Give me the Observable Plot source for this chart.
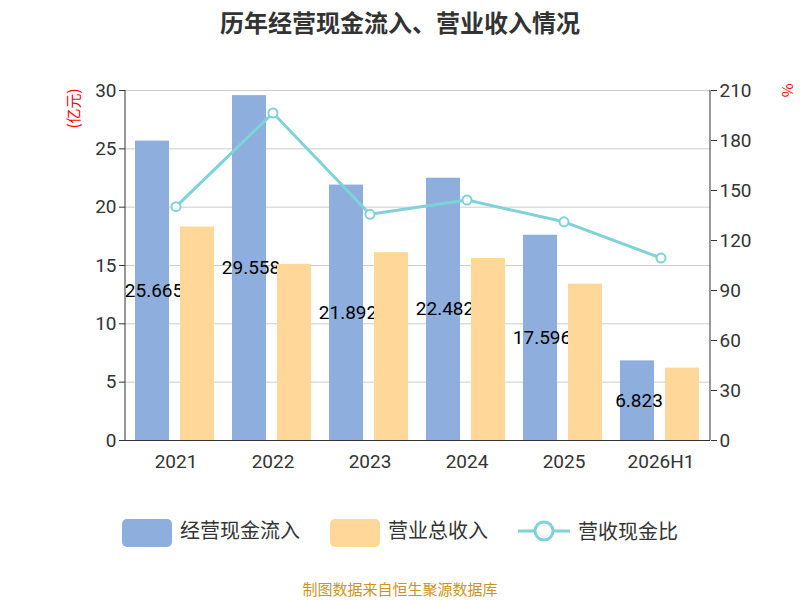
<!DOCTYPE html>
<html><head><meta charset="utf-8">
<script src="https://cdn.jsdelivr.net/npm/d3@7"></script>
<script src="https://cdn.jsdelivr.net/npm/@observablehq/plot@0.6"></script>
<style>
body{margin:0;font-family:"Noto Sans CJK SC","Noto Sans",sans-serif;background:#fff}
#wrap{position:relative;width:800px;height:600px}
#title{position:absolute;top:4px;width:800px;text-align:center;font-size:24px;font-weight:bold;color:#333}
#legend{position:absolute;top:515px;width:800px;display:flex;justify-content:center;gap:30px;font-size:20px;color:#333;align-items:center}
.sw{display:inline-block;width:50px;height:28px;border-radius:5px;margin-right:8px;vertical-align:middle}
#cap{position:absolute;top:578px;width:800px;text-align:center;font-size:15px;color:#c8961e}
.lab{position:absolute;color:red;font-size:15px}
</style></head><body>
<div id="wrap"><div id="chart"></div>
<div id="title">历年经营现金流入、营业收入情况</div>
<div class="lab" style="left:52px;top:98px;transform:rotate(-90deg);transform-origin:center">(亿元)</div>
<div class="lab" style="left:782px;top:80px;transform:rotate(90deg)">%</div>
<div id="legend">
<span><span class="sw" style="background:#8eaedd"></span>经营现金流入</span>
<span><span class="sw" style="background:#ffd899"></span>营业总收入</span>
<span style="display:flex;align-items:center"><svg width="52" height="28" style="margin-right:8px"><line x1="0" y1="14" x2="52" y2="14" stroke="#7fd3d8" stroke-width="3"/><circle cx="26" cy="14" r="9" fill="#fff" stroke="#7fd3d8" stroke-width="3"/></svg>营收现金比</span>
</div>
<div id="cap">制图数据来自恒生聚源数据库</div>
</div>
<script>
const years=["2021","2022","2023","2024","2025","2026H1"];
const cashIn=[25.665,29.558,21.892,22.482,17.596,6.823];
const revenue=[18.3,15.1,16.1,15.6,13.4,6.2];
const ratio=[140.3,196.5,135.7,144.3,131.2,109.5];
const rows=years.map((y,i)=>({y,c:cashIn[i],r:revenue[i],p:ratio[i]/7}));
const chart=Plot.plot({
 width:800,height:475,marginTop:90,marginBottom:35,marginLeft:125,marginRight:90,
 style:{fontSize:"19px",fontFamily:"Roboto,'Noto Sans',sans-serif",color:"#333"},
 x:{domain:years,padding:0,label:null},
 y:{domain:[0,30],label:null},
 marks:[
  Plot.gridY([0,5,10,15,20,25,30],{stroke:"#ccc",strokeOpacity:1}),
  Plot.barY(rows,{x:"y",y:"c",fill:"#8eaedd",insetLeft:8,insetRight:55}),
  Plot.text(rows,{x:"y",y:d=>d.c/2,text:d=>d.c.toFixed(3),dx:-22,fontSize:19,fill:"#000"}),
  Plot.barY(rows,{x:"y",y:"r",fill:"#ffd899",insetLeft:53,insetRight:10}),
  Plot.line(rows,{x:"y",y:"p",stroke:"#7fd3d8",strokeWidth:3}),
  Plot.dot(rows,{x:"y",y:"p",r:4.5,fill:"#fff",stroke:"#7fd3d8",strokeWidth:2}),
  Plot.axisY([0,5,10,15,20,25,30],{anchor:"left",tickSize:6,label:null}),
  Plot.axisY(d3.range(0,211,30).map(v=>v/7),{anchor:"right",tickSize:6,label:null,tickFormat:d=>Math.round(d*7)}),
  Plot.ruleY([0],{stroke:"#333"}),
  Plot.axisX({tickSize:0,label:null,tickPadding:14}),
  Plot.ruleX([0]),
  Plot.ruleX([0],{x:()=>null}),
 ]
});
document.getElementById("chart").appendChild(chart);
// vertical axis lines
const svg=d3.select(chart);
svg.append("line").attr("x1",125).attr("x2",125).attr("y1",90).attr("y2",440).attr("stroke","#333");
svg.append("line").attr("x1",710).attr("x2",710).attr("y1",90).attr("y2",440).attr("stroke","#333");
</script></body></html>
